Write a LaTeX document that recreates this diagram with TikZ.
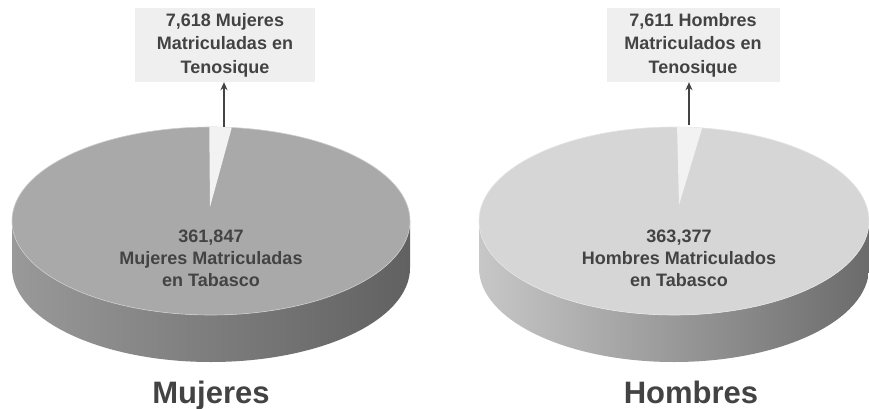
\documentclass[tikz,border=0pt]{standalone}
\usepackage{fontspec}
\setmainfont{Liberation Sans}
\usetikzlibrary{arrows.meta,calc}

\definecolor{textgray}{HTML}{434343}
\definecolor{boxgray}{HTML}{EFEFEF}
\definecolor{sliceM}{HTML}{F2F2F2}
\definecolor{topM}{HTML}{A9A9A9}
\definecolor{topH}{HTML}{D6D6D6}

\tikzset{
  callout/.style={fill=boxgray, inner sep=0pt, align=center, text=textgray,
    font=\fontsize{18}{23.5}\selectfont\bfseries},
  inlabel/.style={inner sep=0pt, align=center, text=textgray,
    font=\fontsize{18}{22}\selectfont\bfseries},
  title/.style={inner sep=0pt, anchor=base, text=textgray,
    font=\fontsize{31}{31}\selectfont\bfseries},
  pointer/.style={-{Stealth[length=8pt,width=7pt]}, line width=2.2pt, draw=textgray}
}

\begin{document}
\begin{tikzpicture}[x=1pt,y=1pt]
        \useasboundingbox[fill=white] (0,0) rectangle (869,408);

        % Draw the Mujeres pie: side, top face and the Tenosique slice
        \path[shading=axis, left color=black!40, middle color=black!52, right color=black!62]
            (12,187) -- (12,140) arc[start angle=180, end angle=360, x radius=199, y radius=94]
            -- (410,187) arc[start angle=360, end angle=180, x radius=199, y radius=94] -- cycle;
        \fill[topM, draw=white!80!black, line width=0.6pt] (211,187) ellipse[x radius=199, y radius=94];
        \fill[sliceM] (210,201) -- ($(211,187)+(90.5:199 and 94)$)
            arc[start angle=90.5, end angle=84, x radius=199, y radius=94] -- cycle;

        % Draw the Hombres pie
        \path[shading=axis, left color=black!22, middle color=black!36, right color=black!58]
            (479,187) -- (479,140) arc[start angle=180, end angle=360, x radius=195, y radius=94]
            -- (869,187) arc[start angle=360, end angle=180, x radius=195, y radius=94] -- cycle;
        \fill[topH, draw=white!90!black, line width=0.6pt] (674,187) ellipse[x radius=195, y radius=94];
        \fill[sliceM] (679,203) -- ($(674,187)+(89.1:195 and 94)$)
            arc[start angle=89.1, end angle=81.7, x radius=195, y radius=94] -- cycle;

        % Labels on the pies
        \node[inlabel] (inM) at (211,150) {361,847\\Mujeres Matriculadas\\en Tabasco};
        \node[inlabel] (inH) at (679,150) {363,377\\Hombres Matriculados\\en Tabasco};

        % Draw the annotation boxes and arrows
        \node[callout, minimum width=180, minimum height=74] (boxM) at (225,363)
            {7,618 Mujeres\\Matriculadas en\\Tenosique};
        \node[callout, minimum width=173, minimum height=74] (boxH) at (693,363)
            {7,611 Hombres\\Matriculados en\\Tenosique};
        \coordinate (aM) at (224,281);
        \coordinate (aH) at (689,283);
        \draw[pointer] (aM) -- (aM |- boxM.south);
        \draw[pointer] (aH) -- (aH |- boxH.south);

        % Titles under the pies
        \node[title] (titleM) at (211,5) {Mujeres};
        \node[title] (titleH) at (691,5) {Hombres};

    \end{tikzpicture}
\end{document}
